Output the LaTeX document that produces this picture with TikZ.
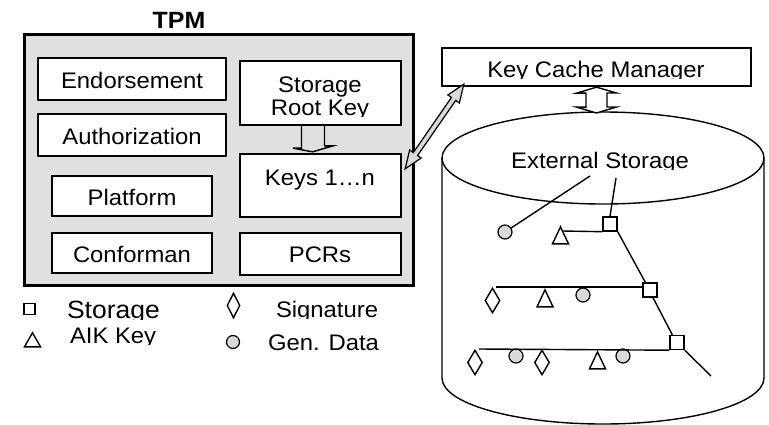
\documentclass[tikz,border=0pt]{standalone}
\usepackage{fontspec}
\setmainfont{Liberation Sans}[FakeStretch=1.06]
\usetikzlibrary{calc,shapes.geometric}
\definecolor{panelgray}{RGB}{224,224,224}
\definecolor{dotgray}{RGB}{217,217,217}
\newcommand\txtfont{\fontsize{22.5pt}{27pt}\selectfont}
\newcommand\bigtxtfont{\fontsize{25pt}{30pt}\selectfont}
\tikzset{
  box/.style={draw=black, line width=2.3pt, fill=white, rectangle, inner sep=0pt},
  lbl/.style={anchor=base, inner sep=0pt, outer sep=0pt, font=\txtfont},
  lblw/.style={lbl, anchor=base west},
  blockarrow/.style={draw=black, line width=1.4pt, line join=miter},
  thin line/.style={line width=1.4pt},
  sqmark/.style={draw, line width=1.4pt, rectangle, inner sep=0pt, minimum size=14pt, fill=white},
  dotmark/.style={draw, line width=1.2pt, circle, inner sep=0pt, minimum size=14pt, fill=dotgray},
  diamark/.style={draw, line width=1.4pt, diamond, inner sep=0pt, minimum width=15pt, minimum height=25pt},
  trimark/.style={draw, line width=1.4pt, isosceles triangle, isosceles triangle stretches,
    shape border rotate=90, inner sep=0pt, minimum width=16pt, minimum height=17pt, anchor=apex},
}
\begin{document}
\begin{tikzpicture}[x=1pt,y=-1pt]
\useasboundingbox (0,0) rectangle (769,424);

% ---------- TPM block ----------
\node[lbl, font=\fontsize{23.5pt}{28pt}\selectfont\bfseries] (tpmtitle) at (179,28) {TPM};
\node[box, line width=3.2pt, fill=panelgray, minimum width=389pt, minimum height=251pt] (tpm) at (219,160) {};

\node[box, minimum width=188pt, minimum height=42pt] (endo) at (132,79) {};
\node[lbl] (endotxt) at (132,88) {Endorsement};
\node[box, minimum width=188pt, minimum height=42pt] (auth) at (132,135) {};
\node[lbl] (authtxt) at (132,144) {Authorization};
\node[box, minimum width=160pt, minimum height=40pt] (plat) at (132,196) {};
\node[lbl] (plattxt) at (132,205) {Platform};
\node[box, minimum width=160pt, minimum height=40pt] (conf) at (132,253) {};
\node[lbl] (conftxt) at (132,262) {Conforman};

\node[box, minimum width=161pt, minimum height=64pt] (srk) at (320.5,93) {};
\node[lbl] (srktxt1) at (320,92) {Storage};
\begin{scope}
  \clip (241,98) rectangle (400,116);
  \node[lbl] (srktxt2) at (320,115) {Root Key};
\end{scope}
\node[box, minimum width=161pt, minimum height=63pt] (keys) at (320.5,185.5) {};
\node[lbl] (keystxt) at (320,185) {Keys 1…n};
\node[box, minimum width=161pt, minimum height=42pt] (pcrs) at (320.5,254) {};
\node[lbl] (pcrstxt) at (320,262) {PCRs};

% hollow block arrow from the root key down to the key slots
\draw[blockarrow] ($(srk.south)+(-19,0)$) -- ++(0,22) -- ++(-8.5,0)
  -- ($(keys.north)+(-8,-1)$) -- ++(20.5,-6) -- ++(-8.5,0) -- ++(0,-22);

% ---------- legend ----------
\node[sqmark, line width=1.5pt, minimum size=11pt] (lgsq) at (29.5,309) {};
\begin{scope}
  \clip (60,290) rectangle (200,319);
  \node[lblw, font=\bigtxtfont] (lgsqtxt) at (67,318) {Storage};
\end{scope}
\node[trimark, minimum width=16pt, minimum height=14pt] (lgtri) at (32.5,331) {};
\begin{scope}
  \clip (60,322) rectangle (200,344);
  \node[lblw] (lgtritxt) at (70,343) {AIK Key};
\end{scope}
\node[diamark, minimum width=13pt, minimum height=25pt] (lgdia) at (233.5,305.5) {};
\begin{scope}
  \clip (260,290) rectangle (400,318);
  \node[lblw] (lgdiatxt) at (276,317) {Signature};
\end{scope}
\node[dotmark, minimum size=13pt] (lgdot) at (233,342) {};
\node[lblw] (lgdottxt) at (268,350) {Gen. Data};

% ---------- external storage cylinder ----------
\draw[thin line] (603,158) ellipse [x radius=161pt, y radius=46pt];
\draw[thin line] (442,158) -- (442,378)
  arc[start angle=180, end angle=360, x radius=161pt, y radius=46pt] -- (764,158);
\begin{scope}
  \clip (500,140) rectangle (700,169);
  \node[lbl] (exttxt) at (600,168) {External Storage};
\end{scope}

% key hierarchy inside the storage
\coordinate (lead1) at (590,176);
\coordinate (lead2) at (616,178);
\coordinate (row1start) at (563,231);
\coordinate (row2start) at (496,287);
\coordinate (row3start) at (479,349);
\coordinate (treeend) at (711,376);

\node[sqmark] (sq1) at (610,224) {};
\node[sqmark] (sq2) at (650,290) {};
\node[sqmark] (sq3) at (677,342.5) {};

\node[dotmark] (c1) at (505,232) {};
\node[trimark] (t1) at (560.5,225) {};

\node[diamark] (d2) at (492.5,300.5) {};
\node[trimark] (t2) at (545,288) {};
\node[dotmark] (c2) at (583,295) {};

\node[diamark] (d3a) at (475,362.5) {};
\node[dotmark] (c3a) at (516,356) {};
\node[diamark] (d3b) at (542,362.5) {};
\node[trimark] (t3) at (597.5,350) {};
\node[dotmark] (c3b) at (623,356) {};

\draw[thin line] (c1) -- (lead1);
\draw[thin line] (sq1.north) -- (lead2);
\draw[thin line] (row1start) -- (sq1.south west);
\draw[thin line] (sq1.south east) -- ($(sq2.north west)+(3,0)$);
\draw[thin line] (row2start) -- (row2start -| sq2.west);
\draw[thin line] ($(sq2.south)+(3,0)$) -- ($(sq3.north west)+(3,0)$);
\draw[thin line] (row3start) -- (sq3.south west);
\draw[thin line] (sq3.south east) -- (treeend);

% ---------- key cache manager ----------
\node[box, minimum width=309pt, minimum height=38pt] (kcm) at (596.5,67) {};
\begin{scope}
  \clip (445,50) rectangle (748,78);
  \node[lbl] (kcmtxt) at (596,77) {Key Cache Manager};
\end{scope}

\coordinate (cyltop) at (596.5,113);
\draw[blockarrow, fill=white] (kcm.south) -- ++(-20,6) -- ++(9.5,0) -- ++(0,14) -- ++(-9.5,0)
  -- (cyltop) -- ++(20,-6) -- ++(-9.5,0) -- ++(0,-14) -- ++(9.5,0) -- cycle;

% double block arrow between the key slots and the cache manager
\coordinate (dA) at ($(keys.north east)+(3,16)$);
\coordinate (dB) at ($(kcm.south west)+(23,-3)$);
\coordinate (a1) at ($(dA)!18pt!(dB)$);
\coordinate (b1) at ($(dB)!18pt!(dA)$);
\draw[blockarrow, line width=1.2pt, fill=dotgray] (dA)
  -- ($(a1)!7pt!90:(dB)$) -- ($(a1)!2.6pt!90:(dB)$)
  -- ($(b1)!2.6pt!-90:(dA)$) -- ($(b1)!7pt!-90:(dA)$)
  -- (dB)
  -- ($(b1)!7pt!90:(dA)$) -- ($(b1)!2.6pt!90:(dA)$)
  -- ($(a1)!2.6pt!-90:(dB)$) -- ($(a1)!7pt!-90:(dB)$) -- cycle;
\end{tikzpicture}
\end{document}
